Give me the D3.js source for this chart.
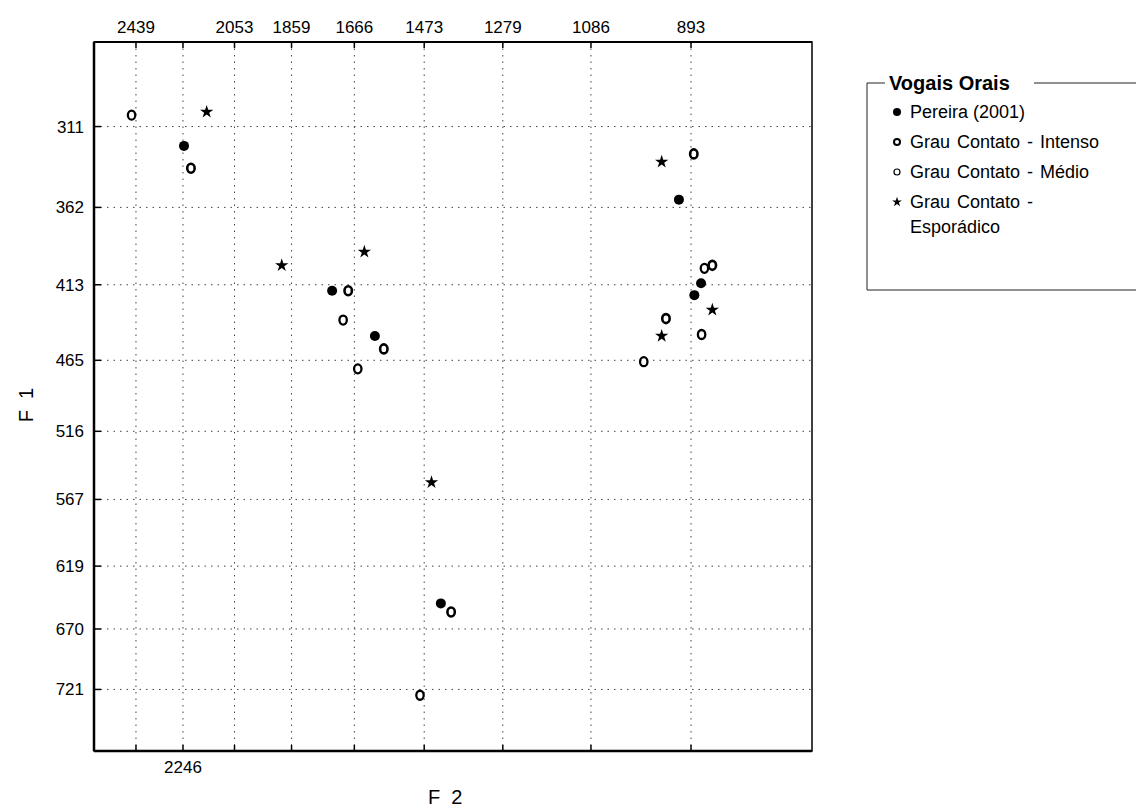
<!DOCTYPE html>
<html>
<head>
<meta charset="utf-8">
<script src="https://cdn.jsdelivr.net/npm/d3@7"></script>
<style>
  html, body { margin: 0; padding: 0; background: #fff; }
  svg { display: block; }
  text { font-family: "Liberation Sans", Arial, sans-serif; fill: #000; }
</style>
</head>
<body>
<svg id="chart" width="1136" height="809"></svg>
<script>
// ---- data (F2, F1 in Hz) ----
const seriesNames = ["Pereira (2001)", "Grau Contato - Intenso", "Grau Contato - Médio", "Grau Contato - Esporádico"];
const pereiraF2 = [2242, 1732, 1607, 1430, 915, 875, 887];
const pereiraF1 = [323, 417, 448, 649, 357, 412, 420];
const intensoF2 = [2215, 1684, 1582, 1404, 888, 855, 939];
const intensoF1 = [337, 417, 457, 656, 328, 400, 436];
const medioF2 = [2458, 1699, 1656, 1484, 869, 874, 981];
const medioF1 = [304, 437, 471, 726, 402, 447, 466];
const esporadicoF2 = [2155, 1891, 1637, 1454, 947, 855, 947];
const esporadicoF1 = [302, 400, 391, 554, 333, 430, 448];

const f2Ticks = [2439, 2246, 2053, 1859, 1666, 1473, 1279, 1086, 893];
const f2TopLabels = [2439, 2053, 1859, 1666, 1473, 1279, 1086, 893];
const f2BottomLabels = [2246];
const f1Ticks = [311, 362, 413, 465, 516, 567, 619, 670, 721];
const f2Domain = [2627, 690];
const f1Domain = [260, 775];

// ---- layout ----
const svg = d3.select("#chart");
const L = 94, R = 812, T = 42, B = 751;
const bark = f => 26.81 * f / (1960 + f) - 0.53;
const xs = d3.scaleLinear().domain(f2Domain.map(bark)).range([L, R]);
const ys = d3.scaleLinear().domain(f1Domain.map(bark)).range([T, B]);
const X = f => xs(bark(f));
const Y = f => ys(bark(f));

// gridlines
const grid = svg.append("g").attr("stroke", "#444").attr("stroke-width", 1).attr("stroke-dasharray", "1.5,5");
grid.selectAll("line.v").data(f2Ticks).join("line")
  .attr("x1", d => X(d)).attr("x2", d => X(d)).attr("y1", T).attr("y2", B);
grid.selectAll("line.h").data(f1Ticks).join("line")
  .attr("x1", L).attr("x2", R).attr("y1", d => Y(d)).attr("y2", d => Y(d));

// axes
const topAxis = svg.append("g").attr("transform", `translate(0,${T})`);
topAxis.selectAll("line").data(f2Ticks).join("line")
  .attr("x1", d => X(d)).attr("x2", d => X(d)).attr("y1", 0).attr("y2", 6)
  .attr("stroke", "#000").attr("stroke-width", 1.5);
topAxis.selectAll("text").data(f2TopLabels).join("text")
  .attr("x", d => X(d)).attr("y", -9).attr("text-anchor", "middle")
  .attr("font-size", 17).text(d => d);

const botAxis = svg.append("g").attr("transform", `translate(0,${B})`);
botAxis.selectAll("line").data(f2Ticks).join("line")
  .attr("x1", d => X(d)).attr("x2", d => X(d)).attr("y1", 0).attr("y2", -6)
  .attr("stroke", "#000").attr("stroke-width", 1.5);
botAxis.selectAll("text").data(f2BottomLabels).join("text")
  .attr("x", d => X(d)).attr("y", 22).attr("text-anchor", "middle")
  .attr("font-size", 17).text(d => d);

const leftAxis = svg.append("g").attr("transform", `translate(${L},0)`);
leftAxis.selectAll("line").data(f1Ticks).join("line")
  .attr("x1", 0).attr("x2", 7).attr("y1", d => Y(d)).attr("y2", d => Y(d))
  .attr("stroke", "#000").attr("stroke-width", 1.5);
leftAxis.selectAll("text").data(f1Ticks).join("text")
  .attr("x", -10).attr("y", d => Y(d)).attr("dy", "0.35em").attr("text-anchor", "end")
  .attr("font-size", 17).text(d => d);

// frame
svg.append("rect").attr("x", L).attr("y", T).attr("width", R - L).attr("height", B - T)
  .attr("fill", "none").attr("stroke", "#000").attr("stroke-width", 1.5);
svg.append("line").attr("x1", L).attr("x2", L).attr("y1", T).attr("y2", B).attr("stroke", "#000").attr("stroke-width", 2.5);
svg.append("line").attr("x1", L).attr("x2", R).attr("y1", B).attr("y2", B).attr("stroke", "#000").attr("stroke-width", 2.5);
svg.append("line").attr("x1", L).attr("x2", R).attr("y1", T).attr("y2", T).attr("stroke", "#000").attr("stroke-width", 2);

// axis titles
svg.append("text").attr("x", 428).attr("y", 804).attr("font-size", 20).attr("xml:space", "preserve").text("F  2");
svg.append("text").attr("transform", "translate(33,405) rotate(-90)").attr("text-anchor", "middle")
  .attr("font-size", 20).attr("xml:space", "preserve").text("F  1");

// marks
const zip = (a, b) => a.map((v, i) => [v, b[i]]);
const marks = svg.append("g");
marks.selectAll("circle.p").data(zip(pereiraF2, pereiraF1)).join("circle")
  .attr("cx", d => X(d[0])).attr("cy", d => Y(d[1])).attr("r", 5).attr("fill", "#000");
marks.selectAll("ellipse.i").data(zip(intensoF2, intensoF1)).join("ellipse")
  .attr("cx", d => X(d[0])).attr("cy", d => Y(d[1])).attr("rx", 3.7).attr("ry", 4.5)
  .attr("fill", "none").attr("stroke", "#000").attr("stroke-width", 2.6);
marks.selectAll("ellipse.m").data(zip(medioF2, medioF1)).join("ellipse")
  .attr("cx", d => X(d[0])).attr("cy", d => Y(d[1])).attr("rx", 3.7).attr("ry", 4.5)
  .attr("fill", "none").attr("stroke", "#000").attr("stroke-width", 2.3);
const star = d3.symbol().type(d3.symbolStar).size(55);
marks.selectAll("path.s").data(zip(esporadicoF2, esporadicoF1)).join("path")
  .attr("transform", d => `translate(${X(d[0])},${Y(d[1])})`).attr("d", star).attr("fill", "#000");

// legend
const lg = svg.append("g");
lg.append("path").attr("d", "M885,83 H867 V290 H1136 M1034,83 H1136")
  .attr("fill", "none").attr("stroke", "#222").attr("stroke-width", 1);
lg.append("text").attr("x", 889).attr("y", 90).attr("font-size", 20).attr("font-weight", "bold")
  .text("Vogais Orais");
const ly = [112, 142, 172, 202];
const lx = 897;
lg.append("circle").attr("cx", lx).attr("cy", ly[0]).attr("r", 4).attr("fill", "#000");
lg.append("circle").attr("cx", lx).attr("cy", ly[1]).attr("r", 3).attr("fill", "none").attr("stroke", "#000").attr("stroke-width", 2);
lg.append("circle").attr("cx", lx).attr("cy", ly[2]).attr("r", 3).attr("fill", "none").attr("stroke", "#000").attr("stroke-width", 1.2);
lg.append("path").attr("transform", `translate(${lx},${ly[3]})`).attr("d", d3.symbol().type(d3.symbolStar).size(30)).attr("fill", "#000");
const legendLines = [[seriesNames[0]], [seriesNames[1]], [seriesNames[2]], ["Grau Contato -", "Esporádico"]];
legendLines.forEach((lines, i) => {
  lines.forEach((t, j) => {
    lg.append("text").attr("x", 910).attr("y", ly[i] + j * 25).attr("dy", "0.35em")
      .attr("font-size", 18).attr("word-spacing", i === 0 ? 0 : 2).text(t);
  });
});
</script>
</body>
</html>
